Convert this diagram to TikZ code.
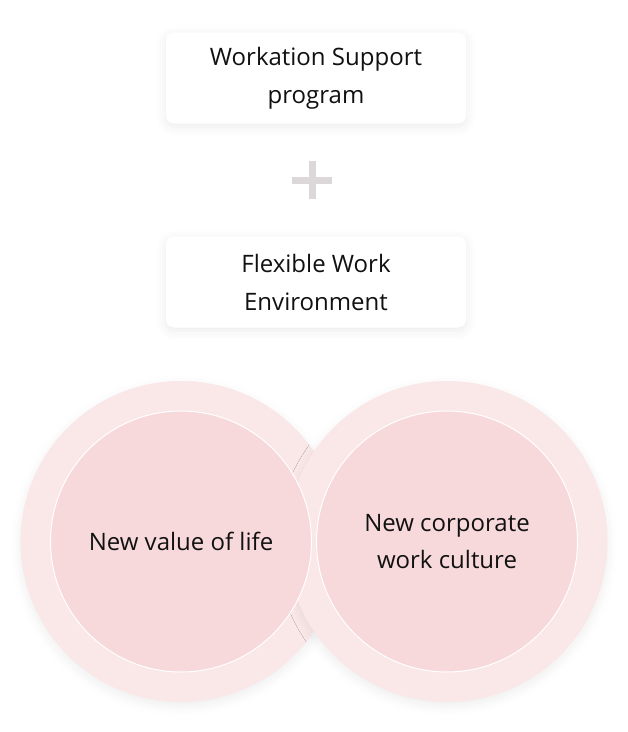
\documentclass[tikz,border=0pt]{standalone}
\usepackage{fontspec}
\setmainfont{Open Sans}
\usetikzlibrary{shadows.blur}
\definecolor{outerpink}{HTML}{FAE7E8}
\definecolor{innerpink}{HTML}{F8D9DB}
\definecolor{plusgray}{HTML}{DCD8DA}
\definecolor{textblack}{HTML}{111111}
\tikzset{
  card/.style={fill=white, rounded corners=8pt, minimum width=300pt, minimum height=91pt,
    align=center, text=textblack, font=\fontsize{24}{38}\selectfont,
    blur shadow={shadow xshift=0pt, shadow yshift=-3pt, shadow opacity=8, shadow blur radius=10pt}},
  ring/.style={circle, fill=outerpink, minimum size=321pt, inner sep=0pt,
    blur shadow={shadow xshift=0pt, shadow yshift=-4pt, shadow opacity=7, shadow blur radius=10pt}},
  core/.style={circle, fill=innerpink, draw=white, line width=1pt, minimum size=261pt,
    inner sep=0pt, align=center, text=textblack, font=\fontsize{24}{37}\selectfont}
}
\begin{document}
\begin{tikzpicture}[x=1pt, y=-1pt]
\useasboundingbox (0,0) rectangle (628,732);
% Cards
\node[card] (support) at (316,78) {Workation Support\\program};
\node[card] (flexible) at (316,282) {Flexible Work\\Environment};
% Plus sign
\fill[plusgray] (292,176.5) rectangle (332,183.5);
\fill[plusgray] (308.5,161) rectangle (315.5,199);
% Circles
\node[ring] (lifering) at (181,541.5) {};
\node[ring] (culturering) at (447,541.5) {};
\node[core] (life) at (lifering) {New value of life};
\node[core] (culture) at (culturering) {New corporate\\work culture};
\end{tikzpicture}
\end{document}
